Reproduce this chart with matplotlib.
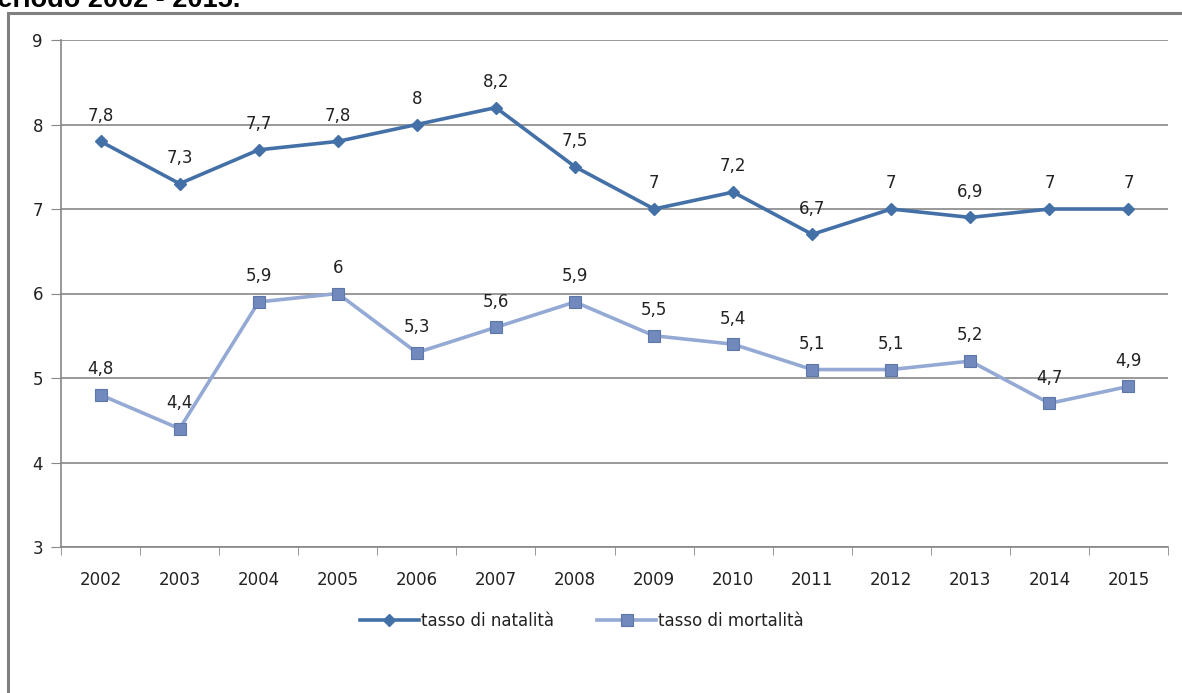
import matplotlib
matplotlib.use('Agg')
import matplotlib.pyplot as plt
from matplotlib.patches import Rectangle
from matplotlib.lines import Line2D

# Data
anni = ['2002', '2003', '2004', '2005', '2006', '2007', '2008',
        '2009', '2010', '2011', '2012', '2013', '2014', '2015']
natalita = [7.8, 7.3, 7.7, 7.8, 8.0, 8.2, 7.5, 7.0, 7.2, 6.7, 7.0, 6.9, 7.0, 7.0]
mortalita = [4.8, 4.4, 5.9, 6.0, 5.3, 5.6, 5.9, 5.5, 5.4, 5.1, 5.1, 5.2, 4.7, 4.9]

W, H = 1182, 693
fig = plt.figure(figsize=(W / 100, H / 100), dpi=100)
ax = fig.add_axes([61 / W, 1 - 547 / H, (1168 - 61) / W, (547 - 40) / H])

col_nat = '#4470A8'
col_mort = '#94AAD4'
grid_col = '#878787'
txt_col = '#222222'

x = list(range(len(anni)))

ax.plot(x, natalita, color=col_nat, lw=2.6, marker='D', markersize=6,
        markerfacecolor=col_nat, markeredgecolor=col_nat, zorder=3)
ax.plot(x, mortalita, color=col_mort, lw=2.6, marker='s', markersize=8,
        markerfacecolor='#7189BD', markeredgecolor='#5E77A8', markeredgewidth=0.8, zorder=3)

def fmt(v):
    return f'{v:g}'.replace('.', ',')

for xi, v in zip(x, natalita):
    ax.annotate(fmt(v), (xi, v), xytext=(0, 12), textcoords='offset points',
                ha='center', va='bottom', fontsize=12, color=txt_col)
for xi, v in zip(x, mortalita):
    ax.annotate(fmt(v), (xi, v), xytext=(0, 12), textcoords='offset points',
                ha='center', va='bottom', fontsize=12, color=txt_col)

ax.set_ylim(3, 9)
ax.set_xlim(-0.5, len(anni) - 0.5)
ax.set_yticks(range(3, 10))
ax.yaxis.grid(True, color=grid_col, lw=1.2)
ax.set_axisbelow(True)

ax.set_xticks(x)
ax.set_xticklabels(anni)
ax.set_xticks([i - 0.5 for i in range(len(anni) + 1)], minor=True)
ax.tick_params(axis='x', which='major', length=0, pad=17, labelsize=12, colors=txt_col)
ax.tick_params(axis='x', which='minor', length=6, color=grid_col, direction='out')
ax.tick_params(axis='y', length=7, color=grid_col, labelsize=12, colors=txt_col, pad=6)

for s in ['top', 'right']:
    ax.spines[s].set_visible(False)
for s in ['left', 'bottom']:
    ax.spines[s].set_color(grid_col)
    ax.spines[s].set_linewidth(1.2)

# Legend
handles = [
    Line2D([], [], color=col_nat, lw=2.6, marker='D', markersize=6,
           markerfacecolor=col_nat, markeredgecolor=col_nat),
    Line2D([], [], color=col_mort, lw=2.6, marker='s', markersize=8,
           markerfacecolor='#7189BD', markeredgecolor='#5E77A8', markeredgewidth=0.8),
]
fig.legend(handles, ['tasso di natalità', 'tasso di mortalità'],
           loc='center', bbox_to_anchor=(582 / W, 1 - 621 / H), ncol=2,
           frameon=False, fontsize=12, handlelength=3.5, handletextpad=0.15,
           columnspacing=2.6, labelcolor=txt_col)

# Outer border and cut-off caption at the top
fig.patches.append(Rectangle((8 / W, -0.1), 1.2, 1.1 - 13 / H,
                             transform=fig.transFigure, fill=False,
                             edgecolor='#808080', lw=2.2))
fig.text(-19 / W, 1 - 7 / H, 'periodo 2002 - 2015.', fontsize=19.5,
         fontweight='bold', family='Liberation Sans', va='baseline', ha='left')

fig.savefig('out.png', dpi=100)
